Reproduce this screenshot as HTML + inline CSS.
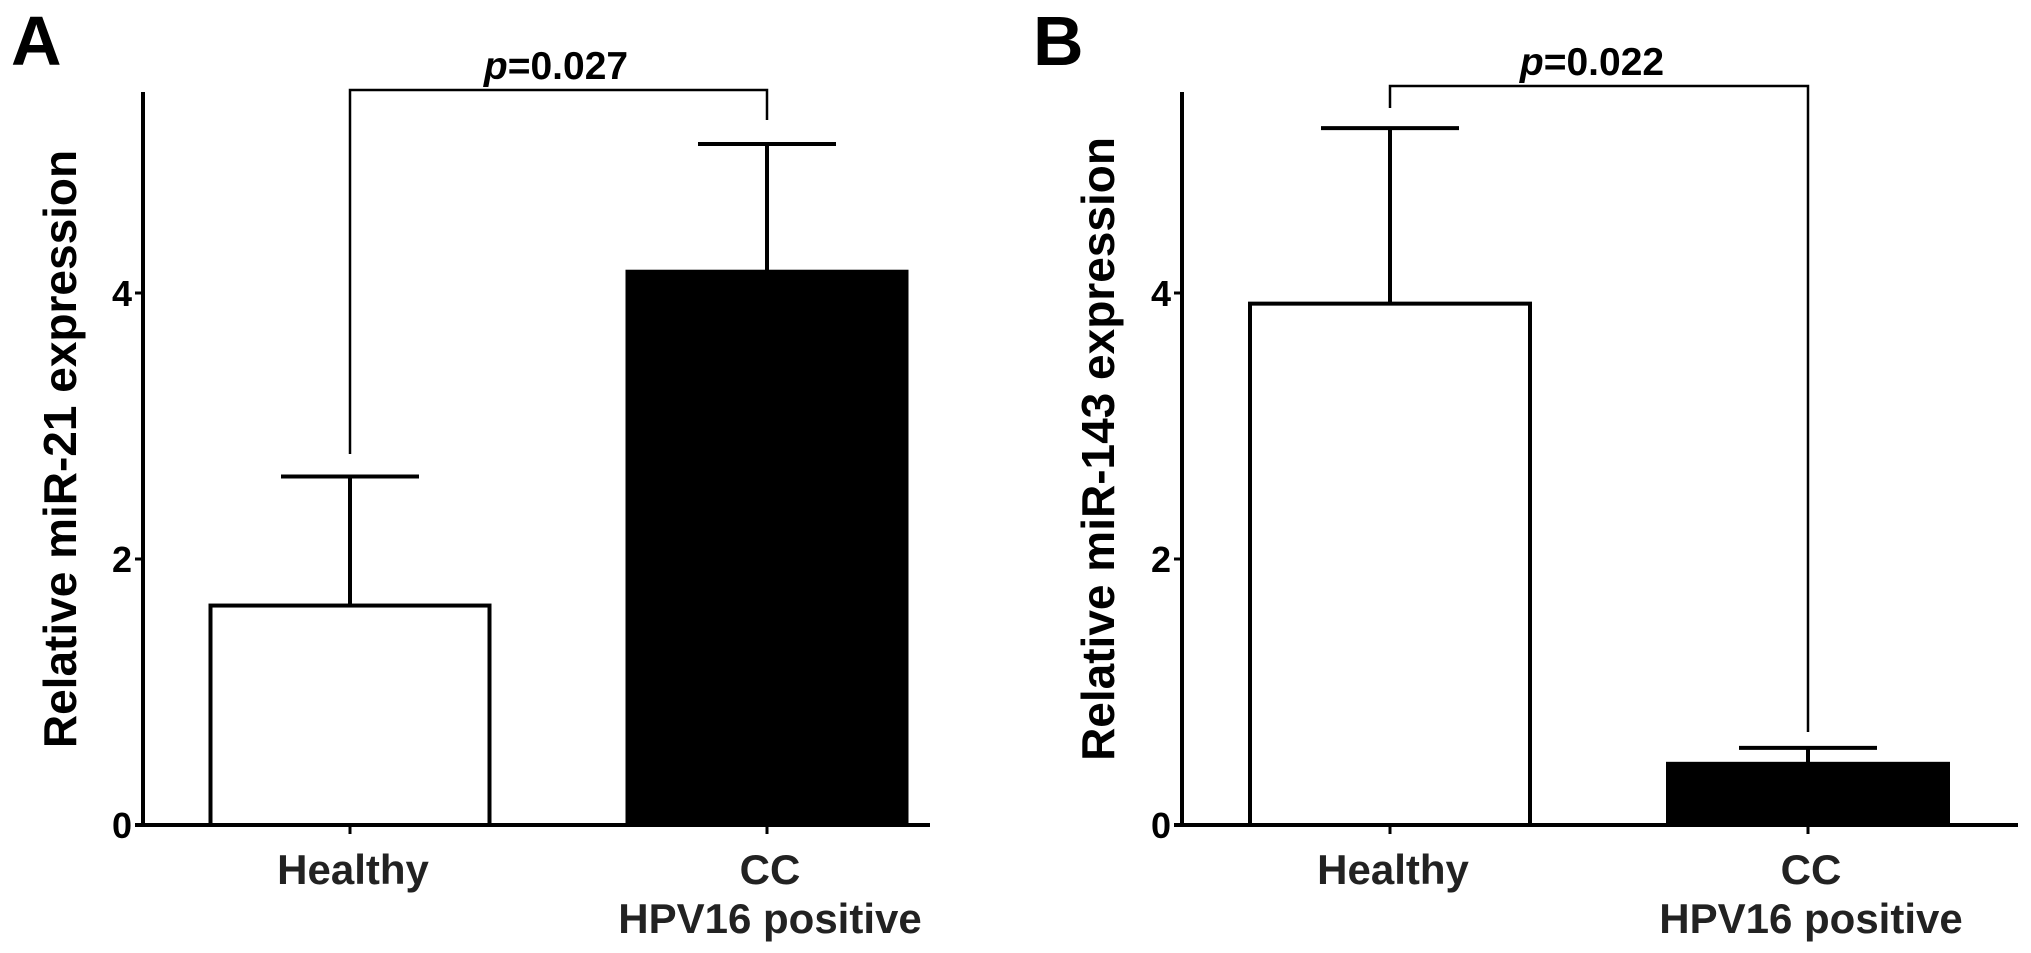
<!DOCTYPE html>
<html><head><meta charset="utf-8"><style>
html,body{margin:0;padding:0;background:#fff;}
svg{display:block;font-family:"Liberation Sans",Arial,sans-serif;font-weight:bold;}
</style></head><body>
<svg id="fig" width="2031" height="953" viewBox="0 0 2031 953" xmlns="http://www.w3.org/2000/svg"></svg>
<script>
const categories = ["Healthy", "CC|HPV16 positive"];
const mir21Means = [1.65, 4.16];
const mir21Errors = [0.97, 0.96];
const mir143Means = [3.92, 0.46];
const mir143Errors = [1.32, 0.12];
const yTicks = [0, 2, 4];
const pValues = ["0.027", "0.022"];

const NS = "http://www.w3.org/2000/svg";
const svg = document.getElementById('fig');
function mk(tag, attrs, parent) {
  const e = document.createElementNS(NS, tag);
  for (const k in attrs) e.setAttribute(k, attrs[k]);
  (parent || svg).appendChild(e);
  return e;
}
const panels = [
  {letter:"A", lx:11, axisX:143, axisRight:930, centers:[350,767], barW:279, title:"Relative miR-21 expression", titleX:62,
   means:mir21Means, errs:mir21Errors, p:pValues[0], bracketY:90, legs:[454,120], pX:556},
  {letter:"B", lx:1033, axisX:1182, axisRight:2018, centers:[1390,1808], barW:280, title:"Relative miR-143 expression", titleX:1100,
   means:mir143Means, errs:mir143Errors, p:pValues[1], bracketY:86, legs:[108,732], pX:1592}
];
const baseY = 825, unit = 133, topY = 92;
function yS(v){ return baseY - v*unit; }

panels.forEach((P, pi) => {
  const g = mk('g', {});
  
  
  const L = mk('text', {x:P.lx, y:65, 'font-size':70, fill:'#000'}, g);
  L.textContent = P.letter;
  
  
  P.means.forEach((m, i) => {
    const cx = P.centers[i];
    const top = yS(m);
    const r = mk('rect', {x:cx-P.barW/2, y:top, width:P.barW, height:baseY-top,
      fill: i===0 ? '#fff' : '#000', stroke:'#000', 'stroke-width':4}, g);
    
    
    const et = yS(m + P.errs[i]);
    const e1 = mk('line', {x1:cx, x2:cx, y1:top, y2:et, stroke:'#000', 'stroke-width':4}, g);
    
    
    const e2 = mk('line', {x1:cx-69, x2:cx+69, y1:et, y2:et, stroke:'#000', 'stroke-width':4}, g);
    
    
    const xt = mk('line', {x1:cx, x2:cx, y1:baseY, y2:baseY+9, stroke:'#000', 'stroke-width':3}, g);
    
    
    const parts = categories[i].split('|');
    parts.forEach((s, j) => {
      const t = mk('text', {x:cx+3, y:884 + j*49, 'font-size':42, 'text-anchor':'middle', fill:'#222'}, g);
      t.textContent = s;
      
      
    });
  });
  const ya = mk('line', {x1:P.axisX, x2:P.axisX, y1:topY, y2:baseY+2, stroke:'#000', 'stroke-width':4}, g);
  
  
  const xa = mk('line', {x1:P.axisX-8, x2:P.axisRight, y1:baseY, y2:baseY, stroke:'#000', 'stroke-width':4}, g);
  
  
  yTicks.forEach(v => {
    const tl = mk('line', {x1:P.axisX-8, x2:P.axisX, y1:yS(v), y2:yS(v), stroke:'#000', 'stroke-width':3}, g);
    
    
    const tt = mk('text', {x:P.axisX-11, y:yS(v)+13, 'font-size':36, 'text-anchor':'end', fill:'#000'}, g);
    tt.textContent = v;
    
    
  });
  const yt = mk('text', {x:0, y:0, 'font-size':46, 'text-anchor':'middle', fill:'#000',
    transform:'translate(' + (P.titleX+14) + ',449) rotate(-90)'}, g);
  yt.textContent = P.title;
  
  
  const c0 = P.centers[0], c1 = P.centers[1];
  const br = mk('path', {d:'M'+c0+' '+P.legs[0]+' V'+P.bracketY+' H'+c1+' V'+P.legs[1], fill:'none', stroke:'#000', 'stroke-width':2.5}, g);
  
  
  const pt = mk('text', {x:P.pX, y:P.bracketY-11, 'font-size':39, 'text-anchor':'middle', fill:'#000'}, g);
  pt.innerHTML = '<tspan font-style="italic">p</tspan>=' + P.p;
  
  
});
</script>
</body></html>
